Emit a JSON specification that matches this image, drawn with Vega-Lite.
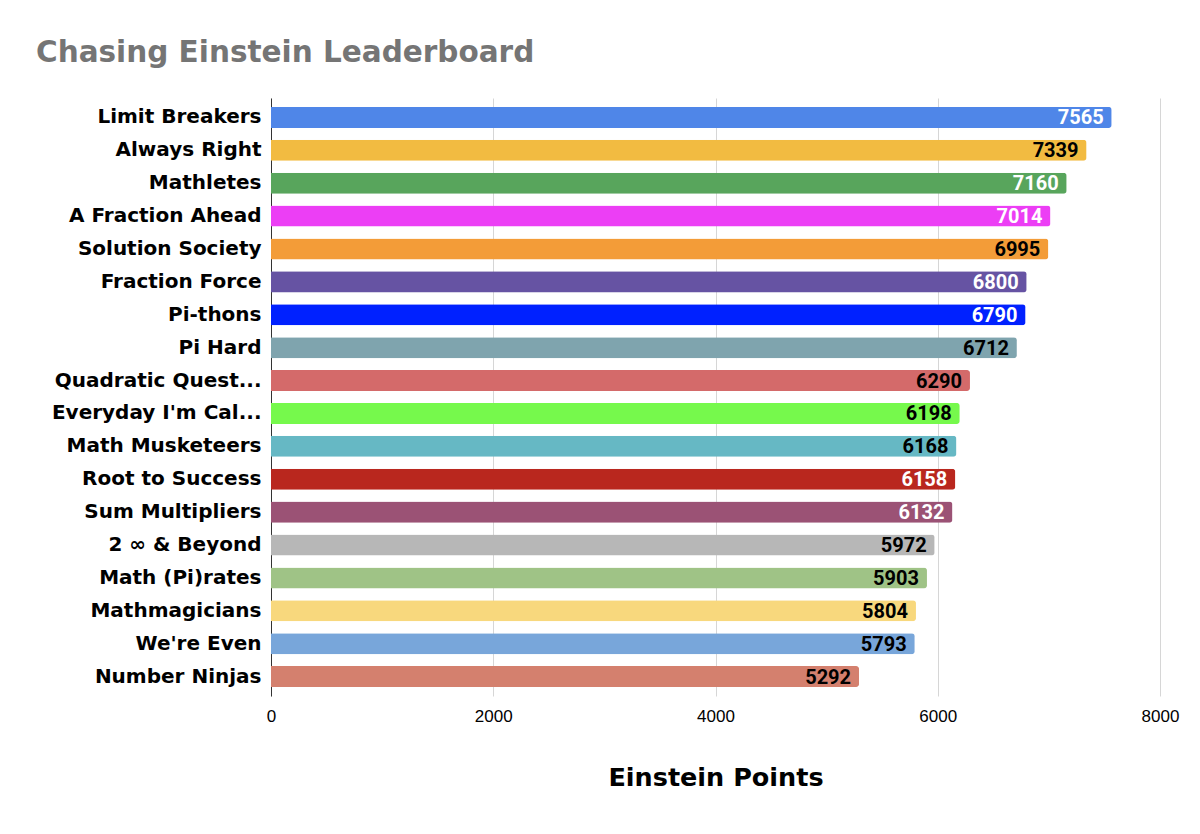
{
  "$schema": "https://vega.github.io/schema/vega-lite/v6.json",
  "width": 889,
  "height": 598,
  "autosize": {"type": "none"},
  "padding": {"left": 271, "top": 98, "right": 40, "bottom": 138},
  "background": "white",
  "config": {"view": {"stroke": null}},
  "title": {
    "text": "Chasing Einstein Leaderboard",
    "anchor": "start",
    "frame": "group",
    "dx": -235,
    "offset": 30,
    "font": "DejaVu Sans",
    "fontSize": 29.5,
    "fontWeight": "bold",
    "color": "#757575"
  },
  "data": {
    "values": [
      {"team": "Limit Breakers", "points": 7565},
      {"team": "Always Right", "points": 7339},
      {"team": "Mathletes", "points": 7160},
      {"team": "A Fraction Ahead", "points": 7014},
      {"team": "Solution Society", "points": 6995},
      {"team": "Fraction Force", "points": 6800},
      {"team": "Pi-thons", "points": 6790},
      {"team": "Pi Hard", "points": 6712},
      {"team": "Quadratic Quest...", "points": 6290},
      {"team": "Everyday I'm Cal...", "points": 6198},
      {"team": "Math Musketeers", "points": 6168},
      {"team": "Root to Success", "points": 6158},
      {"team": "Sum Multipliers", "points": 6132},
      {"team": "2 ∞ & Beyond", "points": 5972},
      {"team": "Math (Pi)rates", "points": 5903},
      {"team": "Mathmagicians", "points": 5804},
      {"team": "We're Even", "points": 5793},
      {"team": "Number Ninjas", "points": 5292}
    ]
  },
  "encoding": {
    "y": {
      "field": "team",
      "type": "nominal",
      "sort": null,
      "scale": {"paddingInner": 0.36, "paddingOuter": 0.27},
      "axis": {
        "title": null,
        "domain": true,
        "domainColor": "#333333",
        "domainWidth": 1,
        "ticks": false,
        "labelPadding": 10,
        "labelFont": "DejaVu Sans",
        "labelFontSize": 20,
        "labelFontWeight": "bold",
        "labelColor": "#000000",
        "labelLimit": 300
      }
    },
    "x": {
      "field": "points",
      "type": "quantitative",
      "scale": {"domain": [0, 8000], "nice": false},
      "axis": {
        "title": "Einstein Points",
        "values": [0, 2000, 4000, 6000, 8000],
        "format": "d",
        "labelFlush": false,
        "domain": false,
        "ticks": false,
        "grid": true,
        "gridColor": "#d6d6d6",
        "gridWidth": 1,
        "labelPadding": 12,
        "labelFont": "Liberation Sans",
        "labelFontSize": 17,
        "labelColor": "#000000",
        "titleFont": "DejaVu Sans",
        "titleFontSize": 25.5,
        "titleFontWeight": "bold",
        "titleColor": "#000000",
        "titlePadding": 41
      }
    }
  },
  "layer": [
    {
      "mark": {"type": "bar", "cornerRadiusEnd": 3},
      "encoding": {
        "color": {
          "field": "team",
          "type": "nominal",
          "legend": null,
          "scale": {
            "domain": ["Limit Breakers", "Always Right", "Mathletes", "A Fraction Ahead", "Solution Society", "Fraction Force", "Pi-thons", "Pi Hard", "Quadratic Quest...", "Everyday I'm Cal...", "Math Musketeers", "Root to Success", "Sum Multipliers", "2 ∞ & Beyond", "Math (Pi)rates", "Mathmagicians", "We're Even", "Number Ninjas"],
            "range": ["#4f86e8", "#f2bb41", "#58a55c", "#ec3ef5", "#f39c38", "#6653a3", "#0021ff", "#7fa4ae", "#d46a6a", "#76f94c", "#66b8c4", "#b9271e", "#9b5275", "#b7b7b7", "#9fc386", "#f8d87d", "#78a6da", "#d4806e"]
          }
        }
      }
    },
    {
      "mark": {
        "type": "text",
        "align": "right",
        "baseline": "middle",
        "dx": -8,
        "dy": 1,
        "font": "Roboto",
        "fontSize": 20,
        "fontWeight": "bold"
      },
      "encoding": {
        "text": {"field": "points", "type": "quantitative", "format": "d"},
        "color": {
          "condition": {
            "test": "indexof(['Limit Breakers','Mathletes','A Fraction Ahead','Fraction Force','Pi-thons','Root to Success','Sum Multipliers'], datum.team) >= 0",
            "value": "#ffffff"
          },
          "value": "#000000"
        }
      }
    }
  ]
}
